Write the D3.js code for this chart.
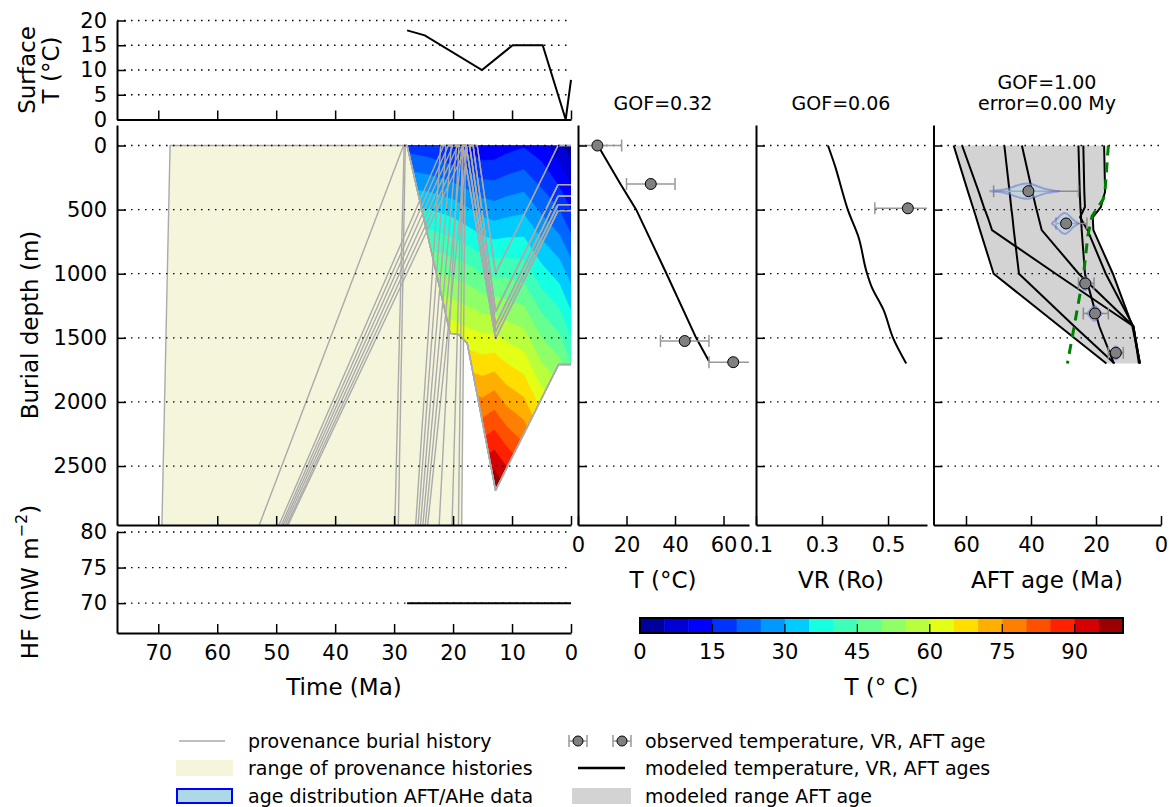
<!DOCTYPE html>
<html>
<head>
<meta charset="utf-8">
<script src="https://cdn.jsdelivr.net/npm/d3@7/dist/d3.min.js"></script>
<style>
  body { margin: 0; background: #fff; }
  svg text { font-family: "DejaVu Sans", sans-serif; fill: #000; }
</style>
</head>
<body>
<div id="chart"></div>
<script>
// - - - - - - - - - -
// data

// tick labels
const timeTicks = [70, 60, 50, 40, 30, 20, 10, 0];
const depthTicks = [0, 500, 1000, 1500, 2000, 2500];
const surfTicks = [0, 5, 10, 15, 20];
const hfTicks = [70, 75, 80];
const tempTicks = [0, 20, 40, 60];
const vrTicks = [0.1, 0.3, 0.5];
const aftTicks = [60, 40, 20, 0];
const cbarTicks = [0, 15, 30, 45, 60, 75, 90];
const tempLevels = [0, 5, 10, 15, 20, 25, 30, 35, 40, 45, 50, 55, 60, 65, 70, 75, 80, 85, 90, 95];

// surface temperature and heat flow history
const surfAge = [27.8, 24.8, 15.1, 9.9, 4.8, 0.9, 0];
const surfTemp = [18, 17, 10, 15, 15, 0, 8];
const hfAge = [27.8, 0];
const hfValue = [70, 70];

// modeled subsurface temperature (one row per age, values by depth)
const fieldAges = [28, 24, 20, 17, 15, 13, 11, 8, 5, 2, 0];
const fieldDepths = [0, 500, 1000, 1500, 2000, 2500, 3000];
const fieldTemps = [
  [18, 36, 52, 67, 82, 97, 112],
  [16.5, 35, 51, 66, 81, 96, 111],
  [14, 33, 49, 64, 79, 94, 109],
  [12.5, 30, 47, 62, 77, 92, 107],
  [11, 28, 45, 61, 76, 92, 107],
  [11.5, 27, 44, 61, 78, 94, 110],
  [13, 28, 44, 59, 74, 90, 105],
  [14.5, 29, 43, 57, 71, 85, 99],
  [12, 24, 37, 50, 63, 76, 89],
  [6, 20, 33, 46, 59, 72, 85],
  [2, 15, 28, 40, 52, 64, 76]
];

// burial of the base of the section [age Ma, depth m]
const baseBurial = [[27.8, 0], [20.5, 1465], [19.1, 1473], [17.6, 1543], [17.1, 1661], [12.8, 2690], [2.1, 1708], [0, 1708]];
// younger units: deposition age, max burial, present depth
const unitDeposit = [15.9, 16.6, 17.2, 17.8, 18.4];
const unitMaxDepth = [996, 1296, 1400, 1452, 1504];
const unitPresentDepth = [0, 305, 396, 461, 508];
const unitTurnAge = [12.8, 2.2];

// provenance histories (-1 = follows the base of the section)
const provStartDepth = 3000;
const provStartAge = [69.4, 53.2, 29.9, 29.3, 49.9, 49.5, 49.2, 48.9, 48.6, 48.4, 26.4, 26.0, 25.6, 25.2, 24.8, 24.4, 22.4, 20.2, 19.1, 18.55];
const provSurfaceAge = [68.0, 28.4, 28.3, 28.1, 21.6, 20.8, 20.0, 19.2, 18.4, 17.6, 22.1, 21.2, 20.3, 19.4, 18.5, 17.6, 19.0, 18.4, 18.3, 17.9];
const provUnit = [-1, -1, -1, -1, 4, 3, 2, 1, 4, 1, 4, 3, 2, 0, 3, 2, 0, 1, 2, 3];
const provRange = [[69.4, 3000], [68.0, 0], [27.8, 0], [20.5, 1465], [19.1, 1473], [18.2, 1515], [18.55, 3000]];

// temperature panel
const tempDepth = [0, 300, 1525, 1690];
const tempObs = [8, 30, 44, 64];
const tempErr = [10, 10, 10, 10];
const tempModelDepth = [0, 300, 500, 1000, 1500, 1682];
const tempModel = [8.2, 17.5, 24, 36.5, 48.7, 54];

// vitrinite reflectance panel
const vrDepth = [490];
const vrObs = [0.56];
const vrErr = [0.1];
const vrModelDepth = [0, 165, 345, 500, 710, 995, 1100, 1280, 1500, 1700];
const vrModel = [0.318, 0.34, 0.36, 0.378, 0.41, 0.436, 0.45, 0.486, 0.515, 0.555];

// apatite fission track panel
const aftDepth = [356, 608, 1076, 1310, 1617];
const aftAge = [40.8, 29.2, 23.3, 20.3, 13.9];
const aftYoung = [25.4, 22.8, 20.6, 16.2, 11.6];
const aftOld = [51.5, 32.3, 25.4, 23.9, 16.2];
const aftViolins = [
  [[52.5, 0.02], [48, 0.12], [45.5, 0.4], [42.5, 0.7], [40.5, 0.72], [38, 0.45], [35.5, 0.18], [33, 0.05], [31.5, 0.02]],
  [[33.5, 0.04], [32, 0.4], [30.5, 0.9], [29.3, 1.0], [28.3, 0.75], [27, 0.3], [25.5, 0.03]],
  [[25.2, 0.04], [24.2, 0.45], [23.3, 0.7], [22.4, 0.4], [21.4, 0.04]],
  [[22.6, 0.04], [21.5, 0.45], [20.4, 0.8], [19.4, 0.45], [18.3, 0.04]],
  [[15.6, 0.04], [14.6, 0.45], [13.9, 0.7], [13.0, 0.4], [12.2, 0.04]]
];
const aftModelDepth = [0, 360, 480, 560, 660, 1000, 1410, 1700];
const aftModelAges = [
  [63.8, 59.4, 57.9, 56.9, 55.7, 51.5, 31.2, 16.8],
  [61.2, 56.1, 54.5, 53.3, 52.0, 32.4, 8.5, 6.5],
  [48.2, 46.6, 46.1, 45.7, 45.3, 43.7, 26.7, 14.3],
  [42.8, 39.6, 38.5, 37.7, 36.7, 25.3, 8.5, 6.8],
  [25.4, 25.0, 24.8, 24.6, 24.4, 23.4, 19.0, 14.5],
  [23.9, 23.6, 23.4, 24.9, 22.6, 17.0, 8.5, 6.5],
  [17.5, 17.2, 18.5, 21.0, 20.8, 14.8, 8.8, 6.5]
];
const aftBestDepth = [0, 350, 420, 550, 700, 1000, 1480, 1700];
const aftBestAge = [16.2, 17.2, 17.8, 21.2, 22.5, 23.8, 27.2, 28.8];

// - - - - - - - - - -
!(function () {
  'use strict'
  const FONT = 'DejaVu Sans';
  const TICK_FS = 21, LABEL_FS = 23, TITLE_FS = 19, LEGEND_FS = 19;

  const frame = {
    left: 117, right: 571,
    top: { y0: 20.5, y1: 119.5 },
    burial: { y0: 125, y1: 525 },
    hf: { y0: 532, y1: 633 },
    temp: { x0: 578, x1: 749 },
    vr: { x0: 756, x1: 927 },
    aft: { x0: 933.5, x1: 1161 },
    cbar: { x0: 640, x1: 1123, y0: 618, y1: 633 }
  };

  const svg = d3.select('#chart').append('svg')
    .attr('width', 1173).attr('height', 807);
  const defs = svg.append('defs');

  // scales
  const xTime = d3.scaleLinear().domain([77, 0]).range([frame.left, frame.right]);
  const ySurf = d3.scaleLinear().domain([0, 20]).range([frame.top.y1, frame.top.y0]);
  const yDepth = d3.scaleLinear().domain([-160, 2960]).range([frame.burial.y0, frame.burial.y1]);
  const yHf = d3.scaleLinear().domain([65.8, 80]).range([frame.hf.y1, frame.hf.y0]);
  const xTemp = d3.scaleLinear().domain([0, 70.5]).range([frame.temp.x0, frame.temp.x1]);
  const xVr = d3.scaleLinear().domain([0.1, 0.618]).range([frame.vr.x0, frame.vr.x1]);
  const xAft = d3.scaleLinear().domain([70, 0]).range([frame.aft.x0, frame.aft.x1]);
  const xCbar = d3.scaleLinear().domain([0, 100]).range([frame.cbar.x0, frame.cbar.x1]);

  // jet colormap
  const jetR = d3.scaleLinear().domain([0, 0.35, 0.66, 0.89, 1]).range([0, 0, 1, 1, 0.5]).clamp(true);
  const jetG = d3.scaleLinear().domain([0, 0.125, 0.375, 0.64, 0.91, 1]).range([0, 0, 1, 1, 0, 0]).clamp(true);
  const jetB = d3.scaleLinear().domain([0, 0.11, 0.34, 0.65, 1]).range([0.5, 1, 1, 0, 0]).clamp(true);
  const jet = t => d3.rgb(jetR(t) * 255, jetG(t) * 255, jetB(t) * 255).formatHex();
  const levelColor = lv => jet((lv + 2.5) / 100);

  // helpers
  let clipCount = 0;
  function clipRect(x0, y0, x1, y1) {
    const id = 'clip' + (clipCount++);
    defs.append('clipPath').attr('id', id).append('rect')
      .attr('x', x0).attr('y', y0).attr('width', x1 - x0).attr('height', y1 - y0);
    return 'url(#' + id + ')';
  }
  function grid(scale, ticks, x0, x1) {
    svg.append('g').selectAll('line').data(ticks).join('line')
      .attr('x1', x0).attr('x2', x1)
      .attr('y1', d => scale(d)).attr('y2', d => scale(d))
      .attr('stroke', '#000').attr('stroke-width', 1.3)
      .attr('stroke-dasharray', '1.5,5.5');
  }
  function axis(ax, tx, ty, showLabels) {
    const a = svg.append('g').attr('transform', 'translate(' + tx + ',' + ty + ')').call(ax);
    a.attr('font-family', FONT).attr('font-size', TICK_FS);
    a.select('.domain').attr('stroke', '#000').attr('stroke-width', 2);
    a.selectAll('.tick line').attr('stroke', '#000').attr('stroke-width', 1.5);
    a.selectAll('.tick text').attr('fill', '#000');
    if (!showLabels) a.selectAll('.tick text').remove();
    return a;
  }
  const intFmt = d3.format('d');
  const bottomAxis = (s, t) => d3.axisBottom(s).tickValues(t).tickFormat(intFmt)
    .tickSizeInner(-9).tickSizeOuter(0).tickPadding(12);
  const leftAxis = (s, t) => d3.axisLeft(s).tickValues(t).tickFormat(intFmt)
    .tickSizeInner(-9).tickSizeOuter(0).tickPadding(10);
  function text(x, y, str, size, opts) {
    opts = opts || {};
    return svg.append('text').attr('x', x).attr('y', y)
      .attr('font-size', size).attr('font-family', FONT)
      .attr('text-anchor', opts.anchor || 'middle')
      .attr('dominant-baseline', 'central')
      .attr('transform', opts.rotate ? 'rotate(-90,' + x + ',' + y + ')' : null)
      .text(str);
  }
  function errorBars(g, xs, ys, lo, hi, color) {
    const grp = g.append('g').attr('stroke', color).attr('stroke-width', 1.5);
    grp.selectAll('line.bar').data(ys).join('line').attr('class', 'bar')
      .attr('x1', (d, i) => xs(lo[i])).attr('x2', (d, i) => xs(hi[i]))
      .attr('y1', d => yDepth(d)).attr('y2', d => yDepth(d));
    grp.selectAll('line.capl').data(ys).join('line').attr('class', 'capl')
      .attr('x1', (d, i) => xs(lo[i])).attr('x2', (d, i) => xs(lo[i]))
      .attr('y1', d => yDepth(d) - 6).attr('y2', d => yDepth(d) + 6);
    grp.selectAll('line.caph').data(ys).join('line').attr('class', 'caph')
      .attr('x1', (d, i) => xs(hi[i])).attr('x2', (d, i) => xs(hi[i]))
      .attr('y1', d => yDepth(d) - 6).attr('y2', d => yDepth(d) + 6);
  }
  function points(g, xs, vals, ys) {
    g.append('g').selectAll('circle').data(ys).join('circle')
      .attr('cx', (d, i) => xs(vals[i])).attr('cy', d => yDepth(d)).attr('r', 5.5)
      .attr('fill', '#808080').attr('stroke', '#000').attr('stroke-width', 1);
  }

  // - - - - - - - - - -
  // surface temperature panel
  grid(ySurf, surfTicks.slice(1), frame.left, frame.right);
  svg.append('path')
    .datum(surfAge.map((a, i) => [a, surfTemp[i]]))
    .attr('fill', 'none').attr('stroke', '#000').attr('stroke-width', 2)
    .attr('d', d3.line().x(d => xTime(d[0])).y(d => ySurf(d[1])));
  axis(leftAxis(ySurf, surfTicks), frame.left, 0, true);
  axis(bottomAxis(xTime, timeTicks), 0, frame.top.y1, false);
  text(27, 70, 'Surface', LABEL_FS, { rotate: true });
  text(51, 70, 'T (°C)', LABEL_FS, { rotate: true });

  // - - - - - - - - - -
  // burial panel
  const burialClip = clipRect(frame.left, frame.burial.y0, frame.right, frame.burial.y1);
  const burial = svg.append('g').attr('clip-path', burialClip);
  const burialLine = d3.line().x(d => xTime(d[0])).y(d => yDepth(d[1]));

  burial.append('path').datum(provRange)
    .attr('fill', '#f5f5dc').attr('stroke', 'none')
    .attr('d', burialLine.curve(d3.curveLinearClosed));
  burialLine.curve(d3.curveLinear);

  // temperature field, clipped to the section
  const sectionPoly = baseBurial.concat([[0, 0]]);
  defs.append('clipPath').attr('id', 'section').append('path')
    .attr('d', burialLine(sectionPoly) + 'Z');
  const nx = fieldAges.length, ny = fieldDepths.length;
  const values = new Array(nx * ny);
  fieldTemps.forEach((col, i) => col.forEach((v, j) => { values[j * nx + i] = v; }));
  const ixAge = d3.scaleLinear().domain(d3.range(nx)).range(fieldAges).clamp(true);
  const iyDepth = d3.scaleLinear().domain(d3.range(ny)).range(fieldDepths).clamp(true);
  const fieldPath = d3.geoPath(d3.geoTransform({
    point: function (x, y) {
      this.stream.point(xTime(ixAge(x - 0.5)), yDepth(iyDepth(y - 0.5)));
    }
  }));
  const bands = d3.contours().size([nx, ny]).thresholds(tempLevels)(values);
  burial.append('g').attr('clip-path', 'url(#section)')
    .selectAll('path').data(bands).join('path')
    .attr('d', fieldPath)
    .attr('fill', d => levelColor(d.value))
    .attr('stroke', d => levelColor(d.value)).attr('stroke-width', 0.6);

  // provenance burial histories
  const provPaths = provStartAge.map((a, i) => {
    const pts = [[a, provStartDepth], [provSurfaceAge[i], 0]];
    const u = provUnit[i];
    if (u < 0) return pts.concat(baseBurial);
    return pts.concat([[unitDeposit[u], 0], [unitTurnAge[0], unitMaxDepth[u]],
      [unitTurnAge[1], unitPresentDepth[u]], [0, unitPresentDepth[u]]]);
  });
  burial.append('g').selectAll('path').data(provPaths).join('path')
    .attr('fill', 'none').attr('stroke', '#aaaaaa').attr('stroke-width', 1.4)
    .attr('stroke-linejoin', 'round')
    .attr('d', burialLine);

  grid(yDepth, depthTicks, frame.left, frame.right);
  axis(leftAxis(yDepth, depthTicks), frame.left, 0, true);
  axis(bottomAxis(xTime, timeTicks), 0, frame.burial.y1, false);
  text(30, 325, 'Burial depth (m)', LABEL_FS, { rotate: true });

  // - - - - - - - - - -
  // heat flow panel
  grid(yHf, hfTicks, frame.left, frame.right);
  svg.append('path')
    .datum(hfAge.map((a, i) => [a, hfValue[i]]))
    .attr('fill', 'none').attr('stroke', '#000').attr('stroke-width', 2)
    .attr('d', d3.line().x(d => xTime(d[0])).y(d => yHf(d[1])));
  axis(leftAxis(yHf, hfTicks), frame.left, 0, true);
  axis(bottomAxis(xTime, timeTicks), 0, frame.hf.y1, true);
  const hfLabel = text(30, 582, 'HF (mW m', LABEL_FS, { rotate: true });
  hfLabel.append('tspan').attr('dy', -9).attr('font-size', 16).text('\u22122');
  hfLabel.append('tspan').attr('dy', 9).text(')');
  text(344, 687, 'Time (Ma)', LABEL_FS);

  // - - - - - - - - - -
  // temperature panel
  grid(yDepth, depthTicks, frame.temp.x0, frame.temp.x1);
  const tempG = svg.append('g').attr('clip-path', clipRect(frame.temp.x0, frame.burial.y0, frame.temp.x1, frame.burial.y1));
  tempG.append('path')
    .datum(tempModelDepth.map((d, i) => [tempModel[i], d]))
    .attr('fill', 'none').attr('stroke', '#000').attr('stroke-width', 2)
    .attr('d', d3.line().x(d => xTemp(d[0])).y(d => yDepth(d[1])));
  errorBars(tempG, xTemp, tempDepth,
    tempObs.map((v, i) => v - tempErr[i]), tempObs.map((v, i) => v + tempErr[i]), '#999999');
  points(svg, xTemp, tempObs, tempDepth);
  axis(leftAxis(yDepth, depthTicks), frame.temp.x0, 0, false);
  axis(bottomAxis(xTemp, tempTicks), 0, frame.burial.y1, true);
  text(663, 103, 'GOF=0.32', TITLE_FS);
  text(663, 580, 'T (°C)', LABEL_FS);

  // - - - - - - - - - -
  // vitrinite reflectance panel
  grid(yDepth, depthTicks, frame.vr.x0, frame.vr.x1);
  const vrG = svg.append('g').attr('clip-path', clipRect(frame.vr.x0, frame.burial.y0, frame.vr.x1, frame.burial.y1));
  vrG.append('path')
    .datum(vrModelDepth.map((d, i) => [vrModel[i], d]))
    .attr('fill', 'none').attr('stroke', '#000').attr('stroke-width', 2)
    .attr('d', d3.line().curve(d3.curveMonotoneY).x(d => xVr(d[0])).y(d => yDepth(d[1])));
  errorBars(vrG, xVr, vrDepth,
    vrObs.map((v, i) => v - vrErr[i]), vrObs.map((v, i) => v + vrErr[i]), '#999999');
  points(svg, xVr, vrObs, vrDepth);
  axis(leftAxis(yDepth, depthTicks), frame.vr.x0, 0, false);
  axis(bottomAxis(xVr, vrTicks).tickFormat(d3.format('.1f')), 0, frame.burial.y1, true);
  text(841, 103, 'GOF=0.06', TITLE_FS);
  text(841, 580, 'VR (Ro)', LABEL_FS);

  // - - - - - - - - - -
  // AFT panel
  const aftG = svg.append('g').attr('clip-path', clipRect(frame.aft.x0, frame.burial.y0, frame.aft.x1, frame.burial.y1));
  const envelope = aftModelDepth.map((d, j) => [d,
    d3.max(aftModelAges, l => l[j]), d3.min(aftModelAges, l => l[j])]);
  aftG.append('path').datum(envelope)
    .attr('fill', '#d3d3d3').attr('stroke', 'none')
    .attr('d', d3.area().y(e => yDepth(e[0])).x0(e => xAft(e[1])).x1(e => xAft(e[2])));
  grid(yDepth, depthTicks, frame.aft.x0, frame.aft.x1);
  aftG.append('g').selectAll('path').data(aftModelAges).join('path')
    .attr('fill', 'none').attr('stroke', '#000').attr('stroke-width', 2)
    .attr('d', l => d3.line().x(a => xAft(a)).y((a, j) => yDepth(aftModelDepth[j]))(l));
  errorBars(aftG, xAft, aftDepth, aftYoung, aftOld, '#8c8c8c');
  aftViolins.forEach((v, i) => {
    const cy = yDepth(aftDepth[i]);
    aftG.append('path').datum(v)
      .attr('fill', '#add8e6').attr('fill-opacity', 0.45)
      .attr('stroke', '#5060d0').attr('stroke-opacity', 0.45).attr('stroke-width', 2)
      .attr('d', d3.area().curve(d3.curveBasis)
        .x(p => xAft(p[0])).y0(p => cy - p[1] * 11).y1(p => cy + p[1] * 11));
  });
  aftG.append('path')
    .datum(aftBestDepth.map((d, i) => [aftBestAge[i], d]))
    .attr('fill', 'none').attr('stroke', '#008000').attr('stroke-width', 3)
    .attr('stroke-dasharray', '10,7')
    .attr('d', d3.line().x(d => xAft(d[0])).y(d => yDepth(d[1])));
  points(svg, xAft, aftAge, aftDepth);
  axis(leftAxis(yDepth, depthTicks), frame.aft.x0, 0, false);
  axis(bottomAxis(xAft, aftTicks), 0, frame.burial.y1, true);
  text(1047, 82, 'GOF=1.00', TITLE_FS);
  text(1047, 103, 'error=0.00 My', TITLE_FS);
  text(1047, 580, 'AFT age (Ma)', LABEL_FS);

  // - - - - - - - - - -
  // colorbar
  const cb = frame.cbar;
  svg.append('g').selectAll('rect').data(tempLevels).join('rect')
    .attr('x', d => xCbar(d)).attr('y', cb.y0)
    .attr('width', d => xCbar(d + 5) - xCbar(d) + 0.5).attr('height', cb.y1 - cb.y0)
    .attr('fill', d => levelColor(d));
  svg.append('g').selectAll('line').data(cbarTicks.slice(1)).join('line')
    .attr('x1', d => xCbar(d)).attr('x2', d => xCbar(d))
    .attr('y1', cb.y1).attr('y2', cb.y1 - 9)
    .attr('stroke', '#000').attr('stroke-width', 1.2);
  svg.append('rect').attr('x', cb.x0).attr('y', cb.y0)
    .attr('width', cb.x1 - cb.x0).attr('height', cb.y1 - cb.y0)
    .attr('fill', 'none').attr('stroke', '#000').attr('stroke-width', 2);
  cbarTicks.forEach(t => text(xCbar(t), 652, String(t), TICK_FS));
  text((cb.x0 + cb.x1) / 2, 687, 'T (° C)', LABEL_FS);

  // - - - - - - - - - -
  // legend
  const rows = [741, 768, 796];
  const lg = svg.append('g');
  lg.append('line').attr('x1', 179).attr('x2', 225).attr('y1', rows[0]).attr('y2', rows[0])
    .attr('stroke', '#aaaaaa').attr('stroke-width', 1.6);
  lg.append('rect').attr('x', 176).attr('y', rows[1] - 8).attr('width', 57).attr('height', 16)
    .attr('fill', '#f5f5dc');
  lg.append('rect').attr('x', 177).attr('y', rows[2] - 7).attr('width', 55).attr('height', 14)
    .attr('fill', '#add8e6').attr('stroke', '#0000ff').attr('stroke-width', 2);
  [578, 622].forEach(cx => {
    lg.append('line').attr('x1', cx - 9).attr('x2', cx + 9).attr('y1', rows[0]).attr('y2', rows[0])
      .attr('stroke', '#999999').attr('stroke-width', 1.5);
    [cx - 9, cx + 9].forEach(x => lg.append('line').attr('x1', x).attr('x2', x)
      .attr('y1', rows[0] - 6).attr('y2', rows[0] + 6).attr('stroke', '#999999').attr('stroke-width', 1.5));
    lg.append('circle').attr('cx', cx).attr('cy', rows[0]).attr('r', 5)
      .attr('fill', '#808080').attr('stroke', '#000').attr('stroke-width', 1);
  });
  lg.append('line').attr('x1', 578).attr('x2', 625).attr('y1', rows[1]).attr('y2', rows[1])
    .attr('stroke', '#000').attr('stroke-width', 2.5);
  lg.append('rect').attr('x', 572).attr('y', rows[2] - 8).attr('width', 59).attr('height', 16)
    .attr('fill', '#d3d3d3');
  text(248, rows[0], 'provenance burial history', LEGEND_FS, { anchor: 'start' });
  text(248, rows[1], 'range of provenance histories', LEGEND_FS, { anchor: 'start' });
  text(248, rows[2], 'age distribution AFT/AHe data', LEGEND_FS, { anchor: 'start' });
  text(645, rows[0], 'observed temperature, VR, AFT age', LEGEND_FS, { anchor: 'start' });
  text(645, rows[1], 'modeled temperature, VR, AFT ages', LEGEND_FS, { anchor: 'start' });
  text(645, rows[2], 'modeled range AFT age', LEGEND_FS, { anchor: 'start' });
  // - - - - - - - - - -
}())
</script>
</body>
</html>
